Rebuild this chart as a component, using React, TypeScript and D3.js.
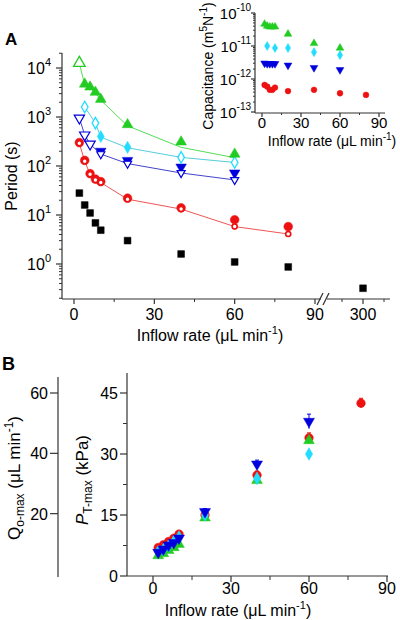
import React from "react";
import * as d3 from "d3";

// ---------- Panel A: period vs inflow rate ----------
const blackX = [2, 4, 6, 8, 10, 20, 40, 60, 80, 300];
const blackY = [28, 16, 11, 6.9, 4.9, 3.0, 1.6, 1.1, 0.87, 0.32];

const redOpenX = [2, 4, 6, 8, 10, 20, 40, 60, 80];
const redOpenY = [290, 125, 68, 52, 46, 21, 13.2, 5.8, 4.1];
const redFillX = [2, 4, 6, 8, 10, 20, 40, 60, 80];
const redFillY = [300, 130, 70, 54, 48, 22, 14, 8, 5.8];

const blueOpenX = [2, 4, 6, 10, 20, 40, 60];
const blueOpenY = [950, 430, 280, 175, 112, 72, 52];
const blueFillX = [10, 20, 40, 60];
const blueFillY = [200, 130, 95, 72];

const cyanOpenX = [4, 8, 10, 20, 40, 60];
const cyanOpenY = [1600, 750, 390, 235, 150, 118];
const cyanFillX = [10, 20];
const cyanFillY = [400, 240];

const greenLineX = [2, 4, 6, 8, 10, 20, 40, 60];
const greenLineY = [12600, 4500, 3900, 3100, 2200, 660, 240, 148];
const greenOpenX = [2];
const greenOpenY = [12600];
const greenFillX = [4, 6, 8, 10, 20, 40, 60];
const greenFillY = [4700, 4100, 3200, 2300, 700, 310, 175];

const xTicksA1 = [0, 30, 60, 90];
const xMinorA1 = [15, 45, 75];
const xTicksA2 = [300];
const xMinorA2 = [250, 350];
const yDecadesA = [0, 1, 2, 3, 4];

// ---------- Inset: capacitance ----------
const insGreenX = [2, 4, 6, 8, 10, 20, 40, 60];
const insGreenY = [4.6e-11, 4.0e-11, 3.8e-11, 3.8e-11, 3.8e-11, 2.3e-11, 1.2e-11, 8.7e-12];
const insCyanX = [4, 10, 20, 40, 60];
const insCyanY = [1.0e-11, 8.7e-12, 8.7e-12, 6.5e-12, 5.3e-12];
const insBlueX = [2, 4, 6, 8, 10, 20, 40, 60];
const insBlueY = [3.0e-12, 2.9e-12, 2.9e-12, 2.9e-12, 2.9e-12, 2.6e-12, 2.2e-12, 1.9e-12];
const insRedX = [2, 4, 6, 8, 10, 20, 40, 60, 80];
const insRedY = [6.6e-13, 5.9e-13, 4.7e-13, 4.7e-13, 5.5e-13, 4.3e-13, 4.7e-13, 3.7e-13, 3.3e-13];
const insXTicks = [0, 30, 60, 90];
const insXMinor = [15, 45, 75];
const insDecades = [-10, -11, -12, -13];

// ---------- Panel B: max pressure ----------
const bX = [2, 4, 6, 8, 10, 20, 40, 60];
const bRedX = [2, 4, 6, 8, 10, 20, 40, 60, 80];
const bRedY = [7.0, 7.7, 8.5, 9.3, 10.3, 15.0, 24.8, 34.0, 42.5];
const bRedE = [0.5, 0.5, 0.5, 0.5, 0.6, 0.8, 1.0, 1.2, 1.2];
const bBlueY = [5.8, 6.6, 7.6, 8.2, 9.3, 15.8, 27.5, 38.0];
const bBlueE = [0.5, 0.5, 0.5, 0.5, 0.6, 0.8, 1.0, 1.8];
const bCyanY = [6.0, 6.5, 7.4, 8.5, 9.6, 15.0, 24.0, 30.0];
const bCyanE = [0.5, 0.5, 0.5, 0.5, 1.0, 0.8, 0.8, 1.0];
const bGreenY = [5.0, 5.5, 6.3, 7.0, 7.8, 14.3, 23.5, 33.3];
const bGreenE = [0.4, 0.4, 0.4, 0.4, 0.5, 0.6, 0.8, 0.8];
const bXTicks = [0, 30, 60, 90];
const bXMinor = [15, 45, 75];
const pTicks = [0, 15, 30, 45];
const pMinor = [7.5, 22.5, 37.5];
const qTicks = [20, 40, 60];

const GREEN = "#22cc22";
const GREEN_L = "#55dd55";
const CYAN = "#22ddff";
const CYAN_L = "#55ccdd";
const BLUE = "#0000dd";
const BLUE_L = "#4444cc";
const RED = "#ee1111";
const RED_L = "#ee5555";
const FONT = "'Liberation Sans', Arial, sans-serif";

type Shape = "circle" | "square" | "triUp" | "triDown" | "diamond";
const symType: Record<Shape, d3.SymbolType> = {
  circle: d3.symbolCircle,
  square: d3.symbolSquare,
  triUp: d3.symbolTriangle,
  triDown: d3.symbolTriangle,
  diamond: d3.symbolDiamond,
};

function Marker({ shape, x, y, size, fill, stroke, sw = 1.2 }: { shape: Shape; x: number; y: number; size: number; fill: string; stroke: string; sw?: number }) {
  const p = d3.symbol().type(symType[shape]).size(size)() || "";
  const rot = shape === "triDown" ? " rotate(180)" : "";
  return <path d={p} transform={`translate(${x},${y})${rot}`} fill={fill} stroke={stroke} strokeWidth={sw} />;
}

export default function App() {
  // Panel A scales
  const xA1 = d3.scaleLinear().domain([0, 90]).range([74, 315]);
  const xA2 = d3.scaleLinear().domain([250, 350]).range([342, 384]);
  const xA = (v: number) => (v <= 100 ? xA1(v) : xA2(v));
  const yA = d3.scaleLog().domain([1, 1e4]).range([264, 68]);
  const yAtop = 53, yAbot = 299, xAleft = 62;

  // Inset scales
  const xI = d3.scaleLinear().domain([0, 90]).range([262, 379]);
  const yI = d3.scaleLog().domain([1e-13, 1e-10]).range([112, 13]);

  // Panel B scales
  const xB = d3.scaleLinear().domain([0, 90]).range([153, 387]);
  const yP = d3.scaleLinear().domain([0, 45]).range([576, 393]);
  const yQ = d3.scaleLinear().domain([0, 60]).range([574, 393]);

  const lineA = (xs: number[], ys: number[]) =>
    d3.line<number>().x((_, i) => xA(xs[i])).y((_, i) => yA(ys[i]))(xs) || "";

  const minorA: number[] = [];
  for (let d = -1; d <= 4; d++) for (let m = 2; m <= 9; m++) {
    const v = m * Math.pow(10, d);
    const py = yA(v);
    if (py >= yAtop && py <= yAbot) minorA.push(v);
  }
  const minorI: number[] = [];
  for (let d = -13; d <= -11; d++) for (let m = 2; m <= 9; m++) minorI.push(m * Math.pow(10, d));

  const tickFont = 16;

  return (
    <svg width={400} height={620} style={{ position: "absolute", left: 0, top: 0, fontFamily: FONT }}>
      <rect width={400} height={620} fill="#fff" />
      {/* ---------------- Panel A ---------------- */}
      <text x={5} y={45} fontSize={17} fontWeight="bold">A</text>
      {/* y axis */}
      <line x1={xAleft} x2={xAleft} y1={yAtop} y2={yAbot} stroke="#333" strokeWidth={1.2} />
      {yDecadesA.map((d) => (
        <g key={"ya" + d}>
          <line x1={xAleft - 6} x2={xAleft} y1={yA(Math.pow(10, d))} y2={yA(Math.pow(10, d))} stroke="#333" strokeWidth={1.2} />
          <text x={51} y={yA(Math.pow(10, d)) + 6} fontSize={tickFont} textAnchor="end">
            10<tspan fontSize={11} dy={-8}>{d}</tspan>
          </text>
        </g>
      ))}
      {minorA.map((v, i) => (
        <line key={"yam" + i} x1={xAleft - 3} x2={xAleft} y1={yA(v)} y2={yA(v)} stroke="#333" strokeWidth={1} />
      ))}
      <text transform={`translate(17,176) rotate(-90)`} fontSize={16} textAnchor="middle">Period (s)</text>
      {/* x axis with break */}
      <line x1={xAleft} x2={321} y1={yAbot} y2={yAbot} stroke="#333" strokeWidth={1.2} />
      <line x1={327} x2={390} y1={yAbot} y2={yAbot} stroke="#333" strokeWidth={1.2} />
      <line x1={317} x2={323} y1={305} y2={293} stroke="#333" strokeWidth={1.2} />
      <line x1={323} x2={329} y1={305} y2={293} stroke="#333" strokeWidth={1.2} />
      {xTicksA1.map((t) => (
        <g key={"xa" + t}>
          <line x1={xA1(t)} x2={xA1(t)} y1={yAbot} y2={yAbot + 5} stroke="#333" strokeWidth={1.2} />
          <text x={xA1(t)} y={320} fontSize={tickFont} textAnchor="middle">{t}</text>
        </g>
      ))}
      {xMinorA1.map((t) => (
        <line key={"xam" + t} x1={xA1(t)} x2={xA1(t)} y1={yAbot} y2={yAbot + 3} stroke="#333" strokeWidth={1} />
      ))}
      {xTicksA2.map((t) => (
        <g key={"xa2" + t}>
          <line x1={xA2(t)} x2={xA2(t)} y1={yAbot} y2={yAbot + 5} stroke="#333" strokeWidth={1.2} />
          <text x={xA2(t)} y={320} fontSize={tickFont} textAnchor="middle">{t}</text>
        </g>
      ))}
      {xMinorA2.map((t) => (
        <line key={"xam2" + t} x1={xA2(t)} x2={xA2(t)} y1={yAbot} y2={yAbot + 3} stroke="#333" strokeWidth={1} />
      ))}
      <text x={210} y={341} fontSize={16} textAnchor="middle">
        Inflow rate (μL min<tspan fontSize={11} dy={-7}>-1</tspan><tspan dy={7}>)</tspan>
      </text>

      {/* lines */}
      <path d={lineA(greenLineX, greenLineY)} fill="none" stroke={GREEN_L} strokeWidth={1} />
      <path d={lineA(cyanOpenX, cyanOpenY)} fill="none" stroke={CYAN_L} strokeWidth={1} />
      <path d={lineA(blueOpenX, blueOpenY)} fill="none" stroke={BLUE_L} strokeWidth={1} />
      <path d={lineA(redOpenX, redOpenY)} fill="none" stroke={RED_L} strokeWidth={1} />

      {/* markers */}
      {blackX.map((x, i) => (
        <Marker key={"bk" + i} shape="square" x={xA(x)} y={yA(blackY[i])} size={46} fill="#000" stroke="#000" sw={0.5} />
      ))}
      {redFillX.map((x, i) => (
        <Marker key={"rf" + i} shape="circle" x={xA(x)} y={yA(redFillY[i])} size={60} fill={RED} stroke={RED} sw={0.5} />
      ))}
      {redOpenX.map((x, i) => (
        <Marker key={"ro" + i} shape="circle" x={xA(x)} y={yA(redOpenY[i])} size={20} fill="#fff" stroke={RED} sw={1.6} />
      ))}
      {blueFillX.map((x, i) => (
        <Marker key={"bf" + i} shape="triDown" x={xA(x)} y={yA(blueFillY[i])} size={48} fill={BLUE} stroke={BLUE} sw={0.5} />
      ))}
      {blueOpenX.map((x, i) => (
        <Marker key={"bo" + i} shape="triDown" x={xA(x)} y={yA(blueOpenY[i])} size={i < 3 ? 46 : 28} fill="#fff" stroke={BLUE} sw={1.2} />
      ))}
      {cyanFillX.map((x, i) => (
        <Marker key={"cf" + i} shape="diamond" x={xA(x)} y={yA(cyanFillY[i])} size={42} fill={CYAN} stroke={CYAN} sw={0.5} />
      ))}
      {cyanOpenX.map((x, i) => (
        cyanFillX.includes(x) ? null :
        <Marker key={"co" + i} shape="diamond" x={xA(x)} y={yA(cyanOpenY[i])} size={38} fill="#fff" stroke={CYAN} sw={1.3} />
      ))}
      {greenFillX.map((x, i) => (
        <Marker key={"gf" + i} shape="triUp" x={xA(x)} y={yA(greenFillY[i])} size={50} fill={GREEN} stroke={GREEN} sw={0.5} />
      ))}
      {greenOpenX.map((x, i) => (
        <Marker key={"go" + i} shape="triUp" x={xA(x)} y={yA(greenOpenY[i])} size={58} fill="#fff" stroke={GREEN} sw={1.3} />
      ))}

      {/* ---------------- Inset ---------------- */}
      <line x1={255} x2={255} y1={13} y2={113} stroke="#333" strokeWidth={1.2} />
      <line x1={255} x2={385} y1={113} y2={113} stroke="#333" strokeWidth={1.2} />
      {insDecades.map((d) => (
        <g key={"yi" + d}>
          <line x1={251} x2={255} y1={yI(Math.pow(10, d))} y2={yI(Math.pow(10, d))} stroke="#333" strokeWidth={1.2} />
          <text x={251} y={yI(Math.pow(10, d)) + 6} fontSize={15} textAnchor="end">
            10<tspan fontSize={10} dy={-8}>{d}</tspan>
          </text>
        </g>
      ))}
      {minorI.map((v, i) => (
        <line key={"yim" + i} x1={253} x2={255} y1={yI(v)} y2={yI(v)} stroke="#333" strokeWidth={1} />
      ))}
      {insXTicks.map((t) => (
        <g key={"xi" + t}>
          <line x1={xI(t)} x2={xI(t)} y1={113} y2={117} stroke="#333" strokeWidth={1.2} />
          <text x={xI(t)} y={128} fontSize={15} textAnchor="middle">{t}</text>
        </g>
      ))}
      {insXMinor.map((t) => (
        <line key={"xim" + t} x1={xI(t)} x2={xI(t)} y1={113} y2={115} stroke="#333" strokeWidth={1} />
      ))}
      <text transform={`translate(213,66) rotate(-90)`} fontSize={14} textAnchor="middle">
        Capacitance (m<tspan fontSize={10} dy={-6}>5</tspan><tspan dy={6}>N</tspan><tspan fontSize={10} dy={-6}>-1</tspan><tspan dy={6}>)</tspan>
      </text>
      <text x={332} y={146} fontSize={14} textAnchor="middle">
        Inflow rate (μL min<tspan fontSize={10} dy={-6}>-1</tspan><tspan dy={6}>)</tspan>
      </text>
      {insGreenX.map((x, i) => (
        <Marker key={"ig" + i} shape="triUp" x={xI(x)} y={yI(insGreenY[i])} size={26} fill={GREEN} stroke={GREEN} sw={0.5} />
      ))}
      {insCyanX.map((x, i) => (
        <Marker key={"ic" + i} shape="diamond" x={xI(x)} y={yI(insCyanY[i])} size={24} fill={CYAN} stroke={CYAN} sw={0.5} />
      ))}
      {insBlueX.map((x, i) => (
        <Marker key={"ib" + i} shape="triDown" x={xI(x)} y={yI(insBlueY[i])} size={26} fill={BLUE} stroke={BLUE} sw={0.5} />
      ))}
      {insRedX.map((x, i) => (
        <Marker key={"ir" + i} shape="circle" x={xI(x)} y={yI(insRedY[i])} size={26} fill={RED} stroke={RED} sw={0.5} />
      ))}

      {/* ---------------- Panel B ---------------- */}
      <text x={2} y={370} fontSize={18} fontWeight="bold">B</text>
      {/* Q axis */}
      <line x1={58} x2={58} y1={377} y2={577} stroke="#333" strokeWidth={1.2} />
      {qTicks.map((t) => (
        <g key={"q" + t}>
          <line x1={50} x2={58} y1={yQ(t)} y2={yQ(t)} stroke="#333" strokeWidth={1.2} />
          <text x={48} y={yQ(t) + 6} fontSize={tickFont} textAnchor="end">{t}</text>
        </g>
      ))}
      <text transform={`translate(20,478) rotate(-90)`} fontSize={17} textAnchor="middle">
        Q<tspan fontSize={12} dy={4}>o-max</tspan><tspan dy={-4}> (μL min</tspan><tspan fontSize={12} dy={-7}>-1</tspan><tspan dy={7}>)</tspan>
      </text>
      {/* P axis */}
      <line x1={127} x2={127} y1={373} y2={576} stroke="#333" strokeWidth={1.2} />
      {pTicks.map((t) => (
        <g key={"p" + t}>
          <line x1={120} x2={127} y1={yP(t)} y2={yP(t)} stroke="#333" strokeWidth={1.2} />
          <text x={118} y={yP(t) + 6} fontSize={tickFont} textAnchor="end">{t}</text>
        </g>
      ))}
      {pMinor.map((t) => (
        <line key={"pm" + t} x1={123} x2={127} y1={yP(t)} y2={yP(t)} stroke="#333" strokeWidth={1} />
      ))}
      <text transform={`translate(88,480) rotate(-90)`} fontSize={17} textAnchor="middle">
        <tspan fontStyle="italic">P</tspan><tspan fontSize={12} dy={4}>T-max</tspan><tspan dy={-4}> (kPa)</tspan>
      </text>
      {/* x axis */}
      <line x1={127} x2={388} y1={576} y2={576} stroke="#333" strokeWidth={1.2} />
      {bXTicks.map((t) => (
        <g key={"xb" + t}>
          <line x1={xB(t)} x2={xB(t)} y1={576} y2={582} stroke="#333" strokeWidth={1.2} />
          <text x={xB(t)} y={594} fontSize={tickFont} textAnchor="middle">{t}</text>
        </g>
      ))}
      {bXMinor.map((t) => (
        <line key={"xbm" + t} x1={xB(t)} x2={xB(t)} y1={576} y2={580} stroke="#333" strokeWidth={1} />
      ))}
      <text x={238} y={616} fontSize={16} textAnchor="middle">
        Inflow rate (μL min<tspan fontSize={11} dy={-7}>-1</tspan><tspan dy={7}>)</tspan>
      </text>

      {/* error bars + markers */}
      {bRedX.map((x, i) => (
        <g key={"br" + i}>
          <line x1={xB(x)} x2={xB(x)} y1={yP(bRedY[i] - bRedE[i])} y2={yP(bRedY[i] + bRedE[i])} stroke={RED} strokeWidth={1} />
          <line x1={xB(x) - 2} x2={xB(x) + 2} y1={yP(bRedY[i] + bRedE[i])} y2={yP(bRedY[i] + bRedE[i])} stroke={RED} strokeWidth={1} />
          <Marker shape="circle" x={xB(x)} y={yP(bRedY[i])} size={58} fill={RED} stroke={RED} sw={0.5} />
        </g>
      ))}
      {bX.map((x, i) => (
        <g key={"bg" + i}>
          <line x1={xB(x)} x2={xB(x)} y1={yP(bGreenY[i] - bGreenE[i])} y2={yP(bGreenY[i] + bGreenE[i])} stroke={GREEN} strokeWidth={1} />
          <Marker shape="triUp" x={xB(x)} y={yP(bGreenY[i])} size={50} fill={GREEN} stroke={GREEN} sw={0.5} />
        </g>
      ))}
      {bX.map((x, i) => (
        <g key={"bc" + i}>
          <line x1={xB(x)} x2={xB(x)} y1={yP(bCyanY[i] - bCyanE[i])} y2={yP(bCyanY[i] + bCyanE[i])} stroke={CYAN} strokeWidth={1} />
          <Marker shape="diamond" x={xB(x)} y={yP(bCyanY[i])} size={46} fill={CYAN} stroke={CYAN} sw={0.5} />
        </g>
      ))}
      {bX.map((x, i) => (
        <g key={"bb" + i}>
          <line x1={xB(x)} x2={xB(x)} y1={yP(bBlueY[i] - bBlueE[i])} y2={yP(bBlueY[i] + bBlueE[i])} stroke={BLUE} strokeWidth={1} />
          <line x1={xB(x) - 2} x2={xB(x) + 2} y1={yP(bBlueY[i] + bBlueE[i])} y2={yP(bBlueY[i] + bBlueE[i])} stroke={BLUE} strokeWidth={1} />
          <Marker shape="triDown" x={xB(x)} y={yP(bBlueY[i])} size={52} fill={BLUE} stroke={BLUE} sw={0.5} />
        </g>
      ))}
    </svg>
  );
}
